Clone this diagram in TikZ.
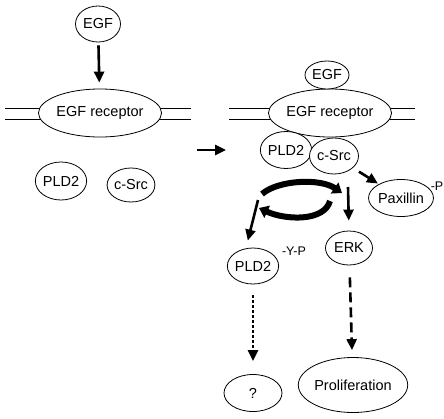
\documentclass[tikz,border=0pt]{standalone}
\usepackage{fontspec}
\setmainfont{Liberation Sans}
\usetikzlibrary{shapes.geometric,arrows.meta}

\begin{document}
\begin{tikzpicture}
	[x=1pt,y=-1pt,
	every node/.style={font=\fontsize{14.5}{17}\selectfont},
	mol/.style={draw,ellipse,fill=white,line width=0.8pt,inner sep=0pt},
	phos/.style={font=\fontsize{12.5}{14}\selectfont,inner sep=0pt},
	sig/.style={line width=2.6pt,-{Triangle[length=11pt,width=10pt]}},
	cyc/.style={line width=6pt,-{Triangle[length=9pt,width=13pt]}},
	mem/.style={line width=0.8pt}]
	\useasboundingbox (0,0) rectangle (444,418);
	\draw[mem] (5,108) -- (191,108) (5,119) -- (191,119);
	\draw[mem] (229,108) -- (415,108) (229,119) -- (415,119);
	\node[mol,minimum width=45,minimum height=36] (egfA) at (98,24) {EGF};
	\node[mol,minimum width=104,minimum height=48] (recA) at (100,113) {EGF receptor};
	\node[mol,minimum width=49,minimum height=38] (pldA) at (61,181) {PLD2};
	\node[mol,minimum width=43,minimum height=34] (srcA) at (131,185) {c-Src};
	\node[mol,minimum width=107,minimum height=48] (recB) at (330,113) {EGF receptor};
	\node[mol,minimum width=44,minimum height=28] (egfB) at (327,75) {EGF};
	\node[mol,minimum width=49,minimum height=37] (pldB) at (286,150) {PLD2};
	\node[mol,minimum width=49,minimum height=36] (srcB) at (334,156) {c-Src};
	\node[mol,minimum width=58,minimum height=37] (pax) at (401,198) {Paxillin};
	\node[phos] (paxP) at (437,186) {-P};
	\node[mol,minimum width=47,minimum height=34] (erk) at (349,248) {ERK};
	\node[mol,minimum width=50,minimum height=36] (pldY) at (253,266) {PLD2};
	\node[phos] (pldYP) at (294,251) {-Y-P};
	\node[mol,minimum width=58,minimum height=37] (what) at (253,393) {?};
	\node[mol,minimum width=95,minimum height=55] (prolif) at (353,385) {Proliferation};
	\coordinate (gapL) at (197,150);
	\coordinate (gapR) at (226,150);
	\coordinate (cycTL) at (262,194);
	\coordinate (cycTR) at (342,193);
	\coordinate (cycBR) at (330,201);
	\coordinate (cycBL) at (259,208);
	\coordinate (erkIn) at (348,187);
	\coordinate (pldIn) at (258,200);
	\draw[sig,shorten <=3pt,shorten >=6pt] (egfA) -- (recA);
	\draw[sig] (gapL) -- (gapR);
	\draw[sig,shorten <=7pt,shorten >=1pt] (srcB) -- (pax);
	\draw[cyc] (cycTL) .. controls (278,180) and (320,178) .. (cycTR);
	\draw[cyc] (cycBR) .. controls (324,222) and (285,220) .. (cycBL);
	\draw[sig,shorten >=10pt] (erkIn) -- (erk.north);
	\draw[sig,shorten >=8pt] (pldIn) -- (pldY.112);
	\draw[sig,dash pattern=on 2.5pt off 2.5pt,shorten <=11pt,shorten >=13pt] (pldY) -- (what);
	\draw[sig,dash pattern=on 10pt off 5pt,shorten <=12pt,shorten >=7pt] (erk) -- (prolif);
\end{tikzpicture}
\end{document}
